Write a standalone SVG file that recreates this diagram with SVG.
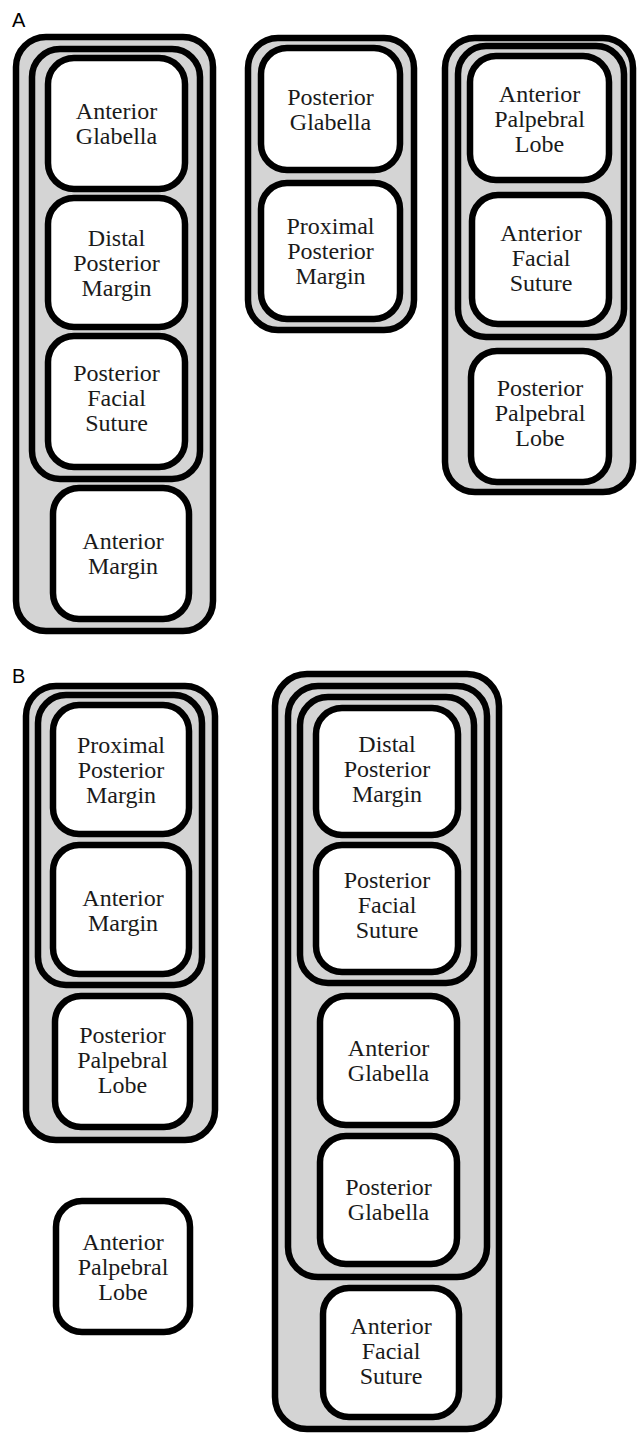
<svg xmlns="http://www.w3.org/2000/svg" width="637" height="1433" viewBox="0 0 637 1433">
<style>
.grp{fill:#d4d4d4;stroke:#000;stroke-width:6.5}
.box{fill:#fff;stroke:#000;stroke-width:6.5}
.t{font-family:"Liberation Serif","Times New Roman",serif;font-size:24px;fill:#1a1a1a;text-anchor:middle}
.lab{font-family:"Liberation Sans",Arial,sans-serif;font-size:20px;fill:#000}
</style>
<rect width="637" height="1433" fill="#fff"/>
<text class="lab" x="12" y="27">A</text>
<text class="lab" x="12" y="683">B</text>

<!-- Panel A, group 1 -->
<g id="A-group1">
  <rect class="grp" x="16" y="37" width="197" height="594" rx="30"/>
  <rect class="grp" x="32" y="49" width="168" height="430" rx="28"/>
  <g id="A-anterior-glabella">
    <rect class="box" x="48" y="58" width="137" height="131" rx="26"/>
    <text class="t" x="116.5" y="119">Anterior</text>
    <text class="t" x="116.5" y="144">Glabella</text>
  </g>
  <g id="A-distal-posterior-margin">
    <rect class="box" x="48" y="198" width="137" height="129" rx="26"/>
    <text class="t" x="116.5" y="246">Distal</text>
    <text class="t" x="116.5" y="271">Posterior</text>
    <text class="t" x="116.5" y="296">Margin</text>
  </g>
  <g id="A-posterior-facial-suture">
    <rect class="box" x="48" y="336" width="137" height="131" rx="26"/>
    <text class="t" x="116.5" y="381">Posterior</text>
    <text class="t" x="116.5" y="406">Facial</text>
    <text class="t" x="116.5" y="431">Suture</text>
  </g>
  <g id="A-anterior-margin">
    <rect class="box" x="53" y="488" width="136" height="131" rx="26"/>
    <text class="t" x="123" y="549">Anterior</text>
    <text class="t" x="123" y="574">Margin</text>
  </g>
</g>

<!-- Panel A, group 2 -->
<g id="A-group2">
  <rect class="grp" x="248" y="38" width="166" height="292" rx="30"/>
  <g id="A-posterior-glabella">
    <rect class="box" x="261" y="48" width="139" height="122" rx="26"/>
    <text class="t" x="330.5" y="105">Posterior</text>
    <text class="t" x="330.5" y="130">Glabella</text>
  </g>
  <g id="A-proximal-posterior-margin">
    <rect class="box" x="261" y="183" width="139" height="136" rx="26"/>
    <text class="t" x="330.5" y="234">Proximal</text>
    <text class="t" x="330.5" y="259">Posterior</text>
    <text class="t" x="330.5" y="284">Margin</text>
  </g>
</g>

<!-- Panel A, group 3 -->
<g id="A-group3">
  <rect class="grp" x="445" y="38" width="188" height="454" rx="30"/>
  <rect class="grp" x="458" y="46" width="166" height="291" rx="28"/>
  <g id="A-anterior-palpebral-lobe">
    <rect class="box" x="470" y="56" width="139" height="124" rx="26"/>
    <text class="t" x="539.5" y="102">Anterior</text>
    <text class="t" x="539.5" y="127">Palpebral</text>
    <text class="t" x="539.5" y="152">Lobe</text>
  </g>
  <g id="A-anterior-facial-suture">
    <rect class="box" x="472" y="195" width="137" height="129" rx="26"/>
    <text class="t" x="541" y="241">Anterior</text>
    <text class="t" x="541" y="266">Facial</text>
    <text class="t" x="541" y="291">Suture</text>
  </g>
  <g id="A-posterior-palpebral-lobe">
    <rect class="box" x="471" y="351" width="138" height="131" rx="26"/>
    <text class="t" x="540" y="396">Posterior</text>
    <text class="t" x="540" y="421">Palpebral</text>
    <text class="t" x="540" y="446">Lobe</text>
  </g>
</g>

<!-- Panel B, group 1 -->
<g id="B-group1">
  <rect class="grp" x="26" y="686" width="189" height="454" rx="30"/>
  <rect class="grp" x="38" y="695" width="164" height="290" rx="28"/>
  <g id="B-proximal-posterior-margin">
    <rect class="box" x="53" y="705" width="136" height="129" rx="26"/>
    <text class="t" x="121" y="753">Proximal</text>
    <text class="t" x="121" y="778">Posterior</text>
    <text class="t" x="121" y="803">Margin</text>
  </g>
  <g id="B-anterior-margin">
    <rect class="box" x="53" y="845" width="136" height="129" rx="26"/>
    <text class="t" x="123" y="906">Anterior</text>
    <text class="t" x="123" y="931">Margin</text>
  </g>
  <g id="B-posterior-palpebral-lobe">
    <rect class="box" x="55" y="996" width="135" height="131" rx="26"/>
    <text class="t" x="122.5" y="1043">Posterior</text>
    <text class="t" x="122.5" y="1068">Palpebral</text>
    <text class="t" x="122.5" y="1093">Lobe</text>
  </g>
</g>

<g id="B-anterior-palpebral-lobe">
  <rect class="box" x="56" y="1201" width="134" height="131" rx="26"/>
  <text class="t" x="123" y="1250">Anterior</text>
  <text class="t" x="123" y="1275">Palpebral</text>
  <text class="t" x="123" y="1300">Lobe</text>
</g>

<!-- Panel B, group 2 -->
<g id="B-group2">
  <rect class="grp" x="275" y="674" width="224" height="755" rx="32"/>
  <rect class="grp" x="288" y="686" width="199" height="591" rx="30"/>
  <rect class="grp" x="300" y="697" width="174" height="286" rx="28"/>
  <g id="B-distal-posterior-margin">
    <rect class="box" x="316" y="708" width="142" height="127" rx="26"/>
    <text class="t" x="387" y="752">Distal</text>
    <text class="t" x="387" y="777">Posterior</text>
    <text class="t" x="387" y="802">Margin</text>
  </g>
  <g id="B-posterior-facial-suture">
    <rect class="box" x="316" y="845" width="142" height="127" rx="26"/>
    <text class="t" x="387" y="888">Posterior</text>
    <text class="t" x="387" y="913">Facial</text>
    <text class="t" x="387" y="938">Suture</text>
  </g>
  <g id="B-anterior-glabella">
    <rect class="box" x="320" y="996" width="137" height="129" rx="26"/>
    <text class="t" x="388.5" y="1056">Anterior</text>
    <text class="t" x="388.5" y="1081">Glabella</text>
  </g>
  <g id="B-posterior-glabella">
    <rect class="box" x="320" y="1136" width="137" height="128" rx="26"/>
    <text class="t" x="388.5" y="1195">Posterior</text>
    <text class="t" x="388.5" y="1220">Glabella</text>
  </g>
  <g id="B-anterior-facial-suture">
    <rect class="box" x="323" y="1288" width="136" height="129" rx="26"/>
    <text class="t" x="391" y="1334">Anterior</text>
    <text class="t" x="391" y="1359">Facial</text>
    <text class="t" x="391" y="1384">Suture</text>
  </g>
</g>
</svg>
